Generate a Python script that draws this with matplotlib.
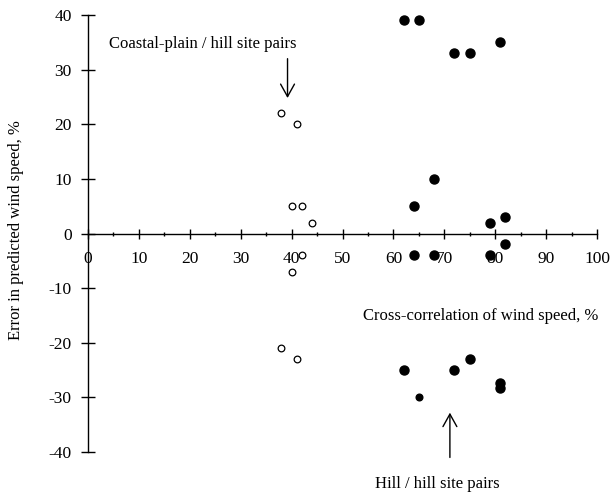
import matplotlib
matplotlib.use("Agg")
import matplotlib.pyplot as plt
from matplotlib.ticker import MultipleLocator

# Coastal-plain / hill site pairs (open circles)
coastal_x = [38, 41, 40, 42, 44, 42, 40, 38, 41]
coastal_y = [22, 20, 5, 5, 2, -4, -7, -21, -23]

# Hill / hill site pairs (filled circles)
hill_x = [62, 65, 72, 75, 81, 68, 64, 79, 82, 82, 64, 68, 79, 62, 72, 75, 81, 81]
hill_y = [39, 39, 33, 33, 35, 10, 5, 2, 3, -2, -4, -4, -4, -25, -25, -23, -27.3, -28.3]
hill_small_x = [65]
hill_small_y = [-30]

x_ticks = list(range(0, 101, 10))
y_ticks = list(range(-40, 41, 10))

plt.rcParams['font.family'] = ['Liberation Serif', 'DejaVu Serif']

fig = plt.figure(figsize=(6.10, 4.92), dpi=100)
ax = fig.add_axes([88/610, 1 - 452/492, (597-88)/610, (452-15)/492])

ax.plot(coastal_x, coastal_y, linestyle='none', marker='o', markersize=4.8,
        markerfacecolor='white', markeredgecolor='black', markeredgewidth=0.9, clip_on=False)
ax.plot(hill_x, hill_y, linestyle='none', marker='o', markersize=6.5,
        markerfacecolor='black', markeredgecolor='black', clip_on=False)
ax.plot(hill_small_x, hill_small_y, linestyle='none', marker='o', markersize=4.8,
        markerfacecolor='black', markeredgecolor='black', clip_on=False)

ax.set_xlim(0, 100)
ax.set_ylim(-40, 40)
ax.spines['left'].set_position(('data', 0))
ax.spines['bottom'].set_position(('data', 0))
ax.spines['top'].set_visible(False)
ax.spines['right'].set_visible(False)
for s in ('left', 'bottom'):
    ax.spines[s].set_linewidth(1.0)

ax.set_xticks(x_ticks)
ax.set_yticks(y_ticks)
ax.xaxis.set_minor_locator(MultipleLocator(5))
ax.tick_params(axis='x', which='major', direction='inout', length=7.5, width=1.0, pad=9, labelsize=12.5)
ax.tick_params(axis='x', which='minor', direction='inout', length=3, width=1.0)
ax.tick_params(axis='y', which='major', direction='inout', length=9.5, width=1.0, pad=7, labelsize=12.5)
ax.set_xticklabels([str(v) for v in x_ticks])
ax.set_yticklabels([str(v) for v in y_ticks])

fig.text(16/610, 1 - 230/492, 'Error in predicted wind speed, %', rotation=90,
         ha='center', va='center', fontsize=12)

ax.text(77.2, -15.1, 'Cross-correlation of wind speed, %', ha='center', va='center', fontsize=12)
ax.text(22.6, 34.7, 'Coastal-plain / hill site pairs', ha='center', va='center', fontsize=12)
ax.text(68.6, -45.9, 'Hill / hill site pairs', ha='center', va='center', fontsize=12, clip_on=False)

arrow_style = dict(arrowstyle='->,head_length=0.9,head_width=0.5', color='black', lw=1.0,
                   shrinkA=0, shrinkB=0)
ax.annotate('', xy=(39.2, 24.8), xytext=(39.2, 32), arrowprops=arrow_style)
ax.annotate('', xy=(71.1, -32.8), xytext=(71.1, -41), arrowprops=arrow_style, annotation_clip=False)

fig.savefig('out.png', dpi=100)
